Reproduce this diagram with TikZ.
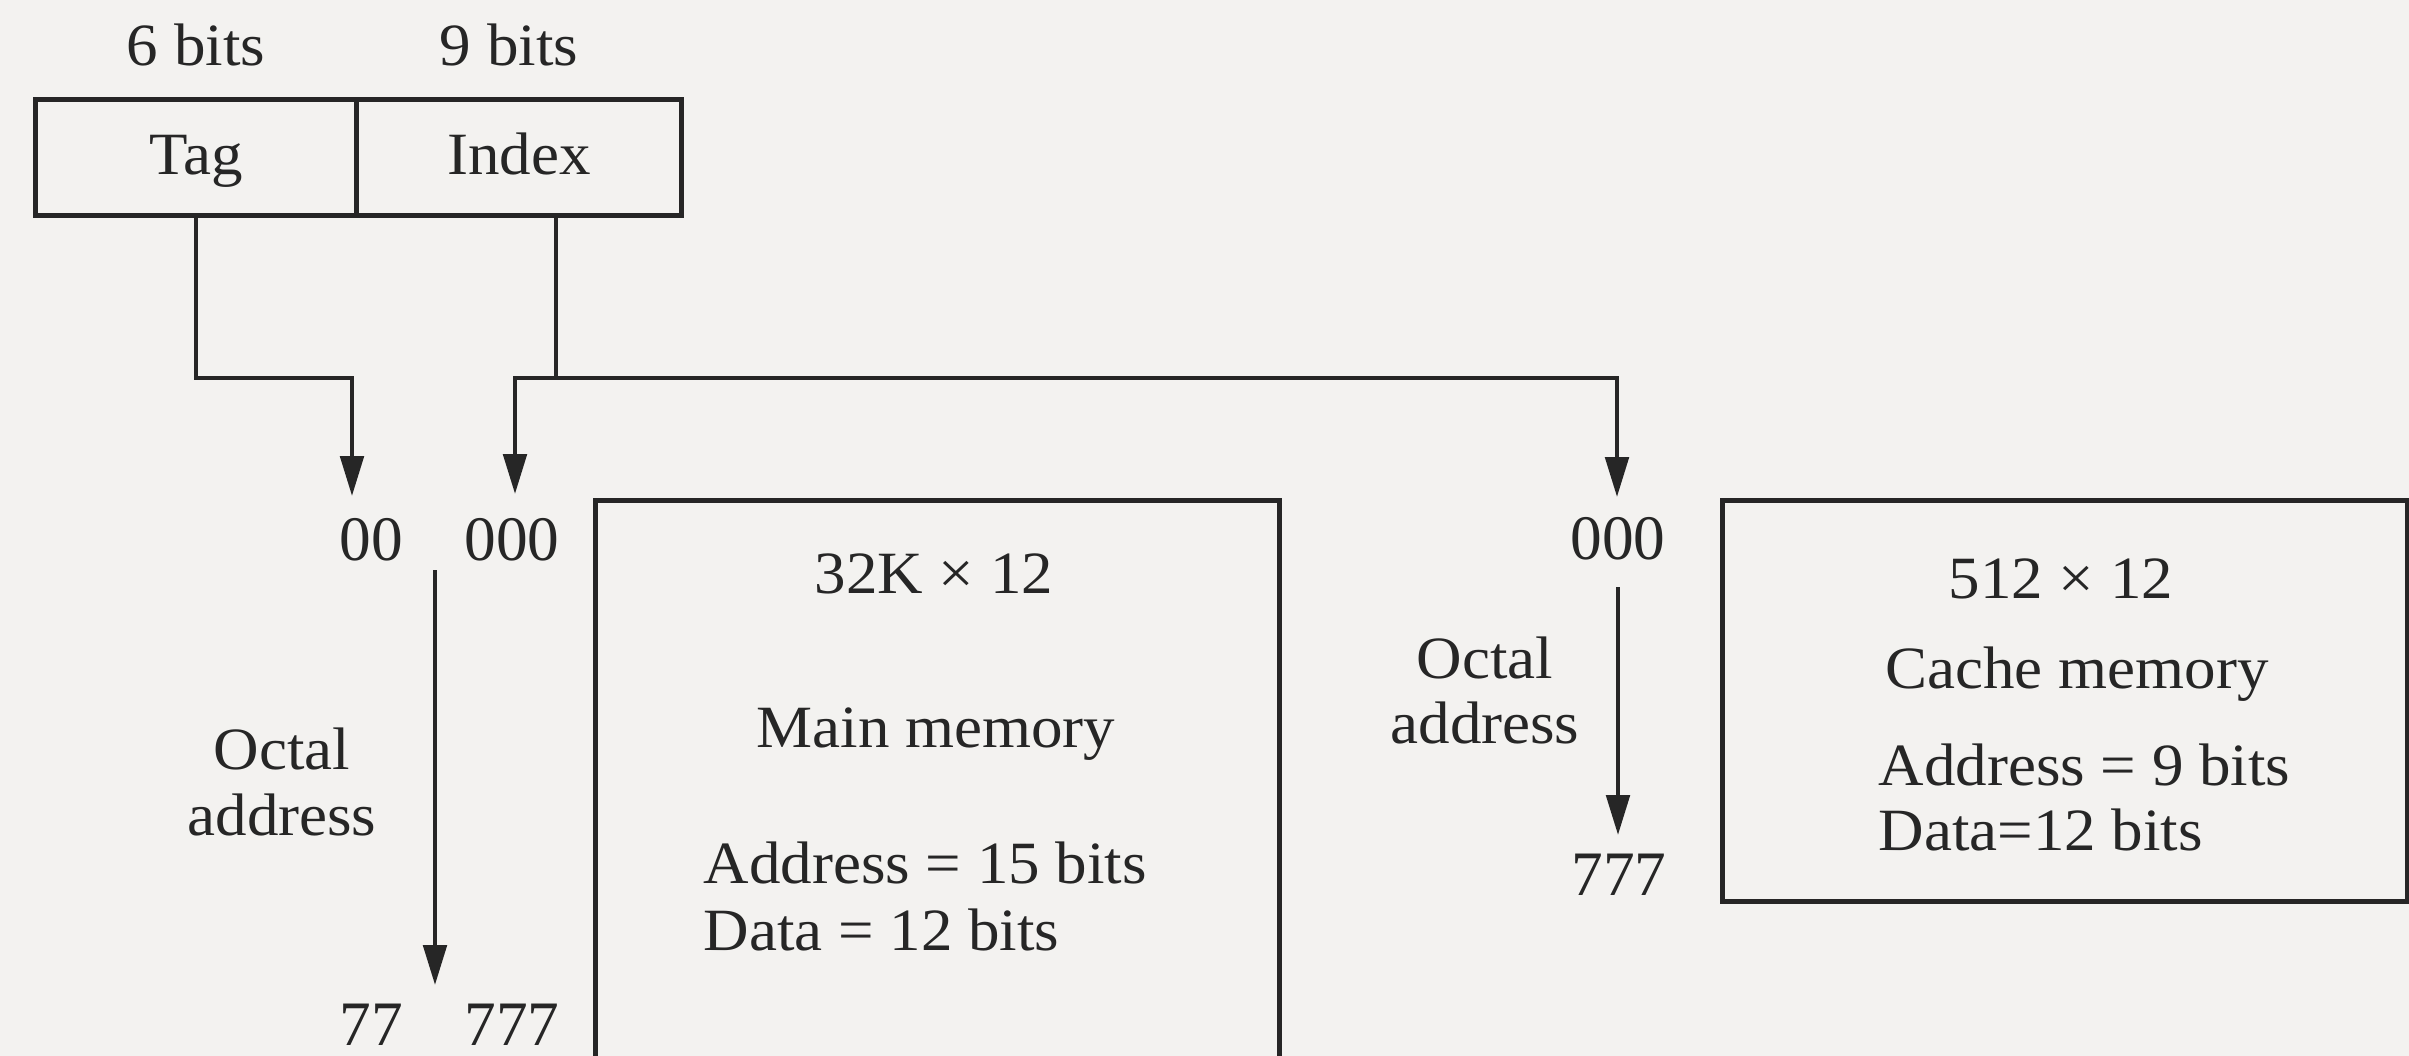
\documentclass[tikz,border=0pt]{standalone}
\usepackage{fontspec}
\setmainfont{Liberation Serif}[FakeStretch=1.05]
\newfontfamily\numfont{Liberation Serif}
\usetikzlibrary{arrows.meta}
\definecolor{paper}{RGB}{243,242,240}
\definecolor{ink}{RGB}{38,38,38}
\begin{document}
\begin{tikzpicture}[x=0.3pt,y=-0.3pt,
  lbl/.style={font=\fontsize{18}{22}\selectfont, text=ink, inner sep=0pt},
  num/.style={font=\numfont\fontsize{19}{22}\selectfont, text=ink, inner sep=0pt},
  cell/.style={draw=ink, line width=1.5pt, minimum height=34.8pt, inner sep=0pt,
    text height=14.4pt, text depth=4.2pt,
    font=\fontsize{18}{22}\selectfont, text=ink},
  membox/.style={draw=ink, line width=1.5pt, inner sep=0pt},
  conn/.style={draw=ink, line width=1.3pt},
  tip/.style={-{Triangle[length=12pt,width=7pt]}},
  arr/.style={conn, tip},
]
\useasboundingbox (0,0) rectangle (2409,1056);
\fill[paper] (0,0) rectangle (2409,1056);
\clip (0,0) rectangle (2409,1056);

% address register
\node[lbl, anchor=base] (b6) at (196,66) {6 bits};
\node[lbl, anchor=base] (b9) at (509,66) {9 bits};
\node[cell, minimum width=96.3pt, anchor=north west] (tag) at (33,97) {Tag};
\node[cell, minimum width=97.5pt, anchor=north west] (index) at (354,97) {Index};

% memory boxes
\node[membox, minimum width=205.2pt, minimum height=186.6pt, anchor=north west] (main) at (593,498) {};
\node[membox, minimum width=205.5pt, minimum height=120.3pt, anchor=north west] (cache) at (1720,498) {};

% octal address labels (main)
\node[num, anchor=base] (n00) at (371,560) {00};
\node[num, anchor=base] (n000) at (512,560) {000};
\node[num, anchor=base] (n77) at (371,1045) {77};
\node[num, anchor=base] (n777) at (512,1045) {777};
\node[lbl, anchor=base] (oct1a) at (282,769) {Octal};
\node[lbl, anchor=base] (oct1b) at (282,835) {address};

% octal address labels (cache)
\node[num, anchor=base] (c000) at (1618,559) {000};
\node[num, anchor=base] (c777) at (1619,895) {777};
\node[lbl, anchor=base] (oct2a) at (1485,678) {Octal};
\node[lbl, anchor=base] (oct2b) at (1485,743) {address};

% main memory text
\node[lbl, anchor=base] (mt1) at (934,593) {32K × 12};
\node[lbl, anchor=base] (mt2) at (936,747) {Main memory};
\node[lbl, anchor=base west] (mt3) at (703,883) {Address = 15 bits};
\node[lbl, anchor=base west] (mt4) at (703,950) {Data = 12 bits};

% cache memory text
\node[lbl, anchor=base] (ct1) at (2061,598) {512 × 12};
\node[lbl, anchor=base] (ct2) at (2077,688) {Cache memory};
\node[lbl, anchor=base west] (ct3) at (1878,785) {Address = 9 bits};
\node[lbl, anchor=base west] (ct4) at (1878,850) {Data=12 bits};

% connectors
\coordinate (tj) at (352,378);
\coordinate (ttip) at (352,496);
\draw[arr] (tag.south) |- (tj) -- (ttip);

\coordinate (iout) at (556,213);
\coordinate (jl) at (515,378);
\coordinate (mtip) at (515,494);
\coordinate (ctip) at (1617,497);
\draw[conn] (iout) -- (iout |- jl);
\draw[conn, {Triangle[length=12pt,width=7pt]}-{Triangle[length=12pt,width=7pt]}] (mtip) -- (jl) -| (ctip);

\coordinate (mo1) at (435,570);
\coordinate (mo2) at (435,985);
\draw[arr] (mo1) -- (mo2);
\coordinate (co1) at (1618,587);
\coordinate (co2) at (1618,835);
\draw[arr] (co1) -- (co2);
\end{tikzpicture}
\end{document}
